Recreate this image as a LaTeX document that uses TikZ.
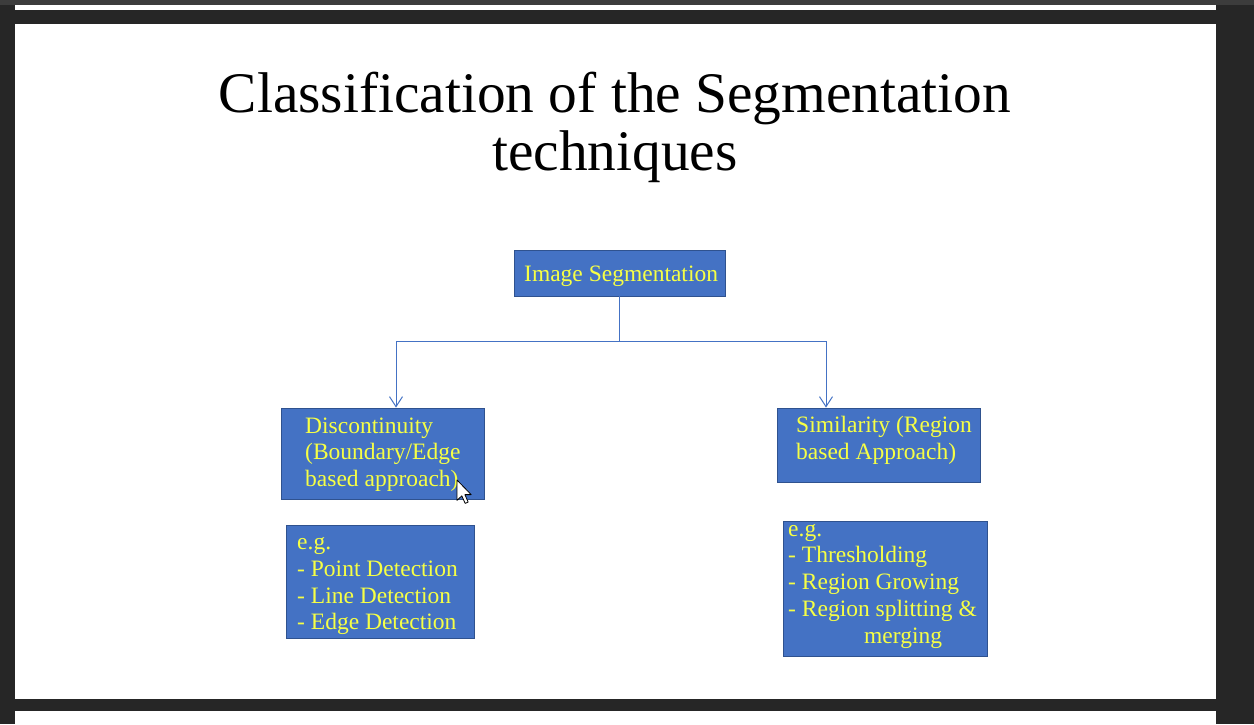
\documentclass[tikz,border=0pt]{standalone}
\usepackage{fontspec}
\setmainfont{Liberation Serif}
\usetikzlibrary{arrows.meta}

\definecolor{backdrop}{HTML}{262626}
\definecolor{topbar}{HTML}{3C3C3C}
\definecolor{boxblue}{HTML}{4472C4}
\definecolor{boxedge}{HTML}{2F528F}
\definecolor{labelyellow}{HTML}{F6FF45}

\tikzset{
  panel/.style={draw=boxedge, fill=boxblue, line width=0.9pt, inner sep=0pt},
  label/.style={text=labelyellow, inner sep=0pt, anchor=base west,
                font=\fontsize{23.5}{26.8}\selectfont},
  heading/.style={anchor=base, inner sep=0pt, font=\fontsize{57.4}{66}\selectfont},
  conn/.style={draw=boxblue, line width=1pt},
  tip/.style={-{Straight Barb[length=10pt,width=13pt,line width=1pt]}},
}

\newcommand{\boxlines}[1]{\parbox[t]{230pt}{#1}}

\begin{document}
\begin{tikzpicture}[x=1pt,y=-1pt]
  % window chrome around the slide
  \fill[backdrop] (0,0) rectangle (1254,724);
  \fill[topbar] (0,0) rectangle (1254,4.6);
  \fill[white] (15,5) rectangle (1216,10);
  \fill[white] (15,24) rectangle (1216,698.5);
  \fill[white] (15,711) rectangle (1216,724);
  \useasboundingbox (0,0) rectangle (1254,724);

  % title
  \node[heading] (t1) at (615,112) {Classification of the Segmentation};
  \node[heading] (t2) at (615,170) {techniques};

  % boxes
  \node[panel, minimum width=211pt, minimum height=46pt] (segbox) at (619.5,273) {};
  \node[panel, minimum width=203pt, minimum height=91pt] (disc) at (382.5,453.5) {};
  \node[panel, minimum width=203pt, minimum height=74pt] (sim) at (878.5,445) {};
  \node[panel, minimum width=188pt, minimum height=113pt] (egl) at (380,581.5) {};
  \node[panel, minimum width=204pt, minimum height=135pt] (egr) at (885,588.5) {};

  % box texts
  \node[label] (segtxt) at (524,281.5) {Image Segmentation};
  \node[label] (disctxt) at (305,433) {\boxlines{Discontinuity\\(Boundary/Edge\\based approach)}};
  \node[label] (simtxt) at (796,432.5) {\boxlines{Similarity (Region\\based Approach)}};
  \node[label] (egltxt) at (297,549.5) {\boxlines{e.g.\\- Point Detection\\- Line Detection\\- Edge Detection}};
  \node[label] (egrtxt) at (788,536) {\boxlines{e.g.\\- Thresholding\\- Region Growing\\- Region splitting \&\\\hspace*{76pt}merging}};

  % connectors
  \coordinate (jl) at (396,341);
  \coordinate (jr) at (826,341);
  \draw[conn] (segbox.south) -- (segbox.south |- jl);
  \draw[conn] (jl) -- (jr);
  \draw[conn, tip] (jl) -- (jl |- disc.north);
  \draw[conn, tip] (jr) -- (jr |- sim.north);

  % mouse pointer
  \begin{scope}[shift={(457,480)}, scale=1.2]
    \filldraw[fill=white, draw=black, line width=0.8pt, line join=round]
      (0,0) -- (0,17) -- (4,13.2) -- (6.8,19.5) -- (9.3,18.4) -- (6.6,12.2) -- (11.8,12.2) -- cycle;
  \end{scope}
\end{tikzpicture}
\end{document}
